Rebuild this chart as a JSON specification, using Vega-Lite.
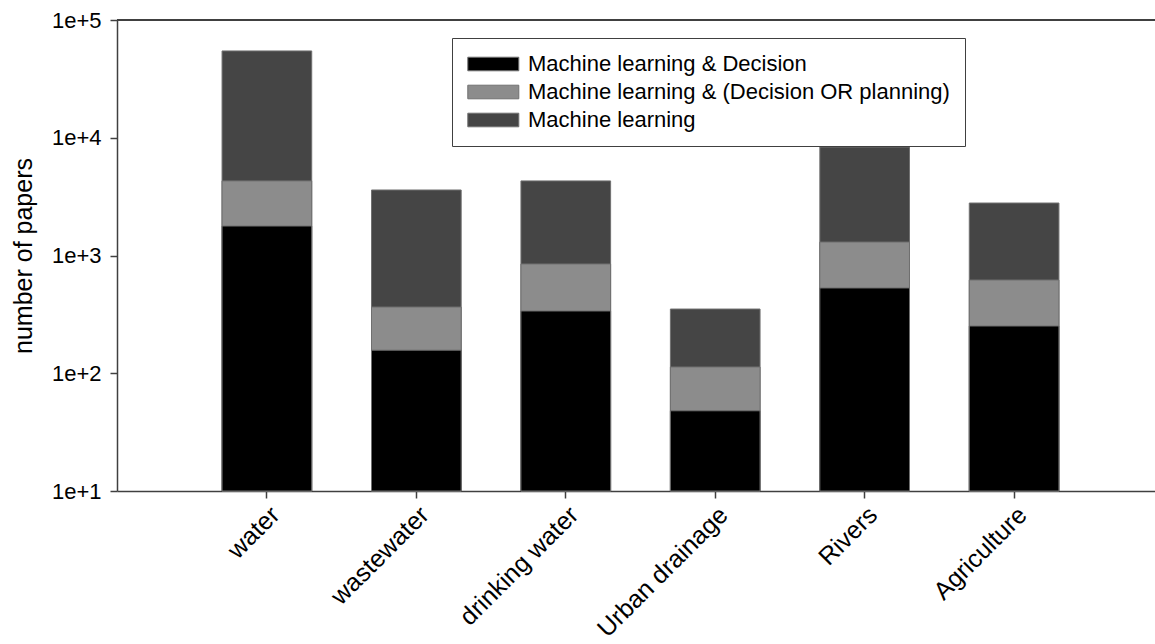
{
  "$schema": "https://vega.github.io/schema/vega-lite/v6.json",
  "width": 1038,
  "height": 471,
  "autosize": {"type": "none"},
  "padding": {"left": 117, "top": 20, "right": 0, "bottom": 153},
  "background": "white",
  "config": {
    "view": {"stroke": null},
    "font": "Liberation Sans",
    "axis": {
      "domainColor": "#404040",
      "domainWidth": 1.5,
      "tickColor": "#404040",
      "tickWidth": 1.5,
      "labelColor": "#000000",
      "titleColor": "#000000",
      "grid": false
    }
  },
  "data": {
    "values": [
      {"category": "water", "series": "Machine learning", "papers": 54600},
      {"category": "wastewater", "series": "Machine learning", "papers": 3600},
      {"category": "drinking water", "series": "Machine learning", "papers": 4300},
      {"category": "Urban drainage", "series": "Machine learning", "papers": 351},
      {"category": "Rivers", "series": "Machine learning", "papers": 8340},
      {"category": "Agriculture", "series": "Machine learning", "papers": 2790},
      {"category": "water", "series": "Machine learning & (Decision OR planning)", "papers": 4300},
      {"category": "wastewater", "series": "Machine learning & (Decision OR planning)", "papers": 365},
      {"category": "drinking water", "series": "Machine learning & (Decision OR planning)", "papers": 847},
      {"category": "Urban drainage", "series": "Machine learning & (Decision OR planning)", "papers": 113},
      {"category": "Rivers", "series": "Machine learning & (Decision OR planning)", "papers": 1300},
      {"category": "Agriculture", "series": "Machine learning & (Decision OR planning)", "papers": 619},
      {"category": "water", "series": "Machine learning & Decision", "papers": 1780},
      {"category": "wastewater", "series": "Machine learning & Decision", "papers": 157},
      {"category": "drinking water", "series": "Machine learning & Decision", "papers": 338},
      {"category": "Urban drainage", "series": "Machine learning & Decision", "papers": 48},
      {"category": "Rivers", "series": "Machine learning & Decision", "papers": 530},
      {"category": "Agriculture", "series": "Machine learning & Decision", "papers": 252}
    ]
  },
  "layer": [
    {
      "mark": {"type": "bar", "stroke": "#707070", "strokeWidth": 1},
      "encoding": {
        "x": {
          "field": "category",
          "type": "nominal",
          "sort": ["water", "wastewater", "drinking water", "Urban drainage", "Rivers", "Agriculture"],
          "scale": {"range": [0, 1047], "paddingInner": 0.4, "paddingOuter": 0.703},
          "axis": {
            "title": null,
            "labelAngle": -45,
            "labelFontSize": 25,
            "tickSize": 7,
            "labelPadding": 4
          }
        },
        "y": {
          "field": "papers",
          "type": "quantitative",
          "stack": null,
          "scale": {"type": "log", "domain": [10, 100000]},
          "axis": {
            "title": "number of papers",
            "titleFontSize": 25,
            "titleFontWeight": "normal",
            "titlePadding": 15,
            "values": [10, 100, 1000, 10000, 100000],
            "labelExpr": "'1e+' + round(log(datum.value) / LN10)",
            "labelFontSize": 22,
            "labelPadding": 9,
            "tickSize": 7
          }
        },
        "fill": {
          "field": "series",
          "type": "nominal",
          "scale": {
            "domain": ["Machine learning & Decision", "Machine learning & (Decision OR planning)", "Machine learning"],
            "range": ["#000000", "#8c8c8c", "#454545"]
          },
          "legend": {
            "title": null,
            "orient": "none",
            "legendX": 335,
            "legendY": 18,
            "fillColor": "white",
            "strokeColor": "#404040",
            "padding": 15,
            "rowPadding": 6,
            "symbolType": "M-1.2,-0.8 L4.8,-0.8 L4.8,0.8 L-1.2,0.8 Z",
            "symbolSize": 289,
            "symbolStrokeColor": "#707070",
            "symbolStrokeWidth": 1,
            "symbolOpacity": 1,
            "labelFontSize": 22,
            "labelColor": "#000000",
            "labelOffset": 39,
            "labelLimit": 700
          }
        }
      }
    },
    {
      "mark": {"type": "rule", "color": "#404040", "strokeWidth": 1.5},
      "encoding": {"y": {"datum": 100000}}
    }
  ]
}
